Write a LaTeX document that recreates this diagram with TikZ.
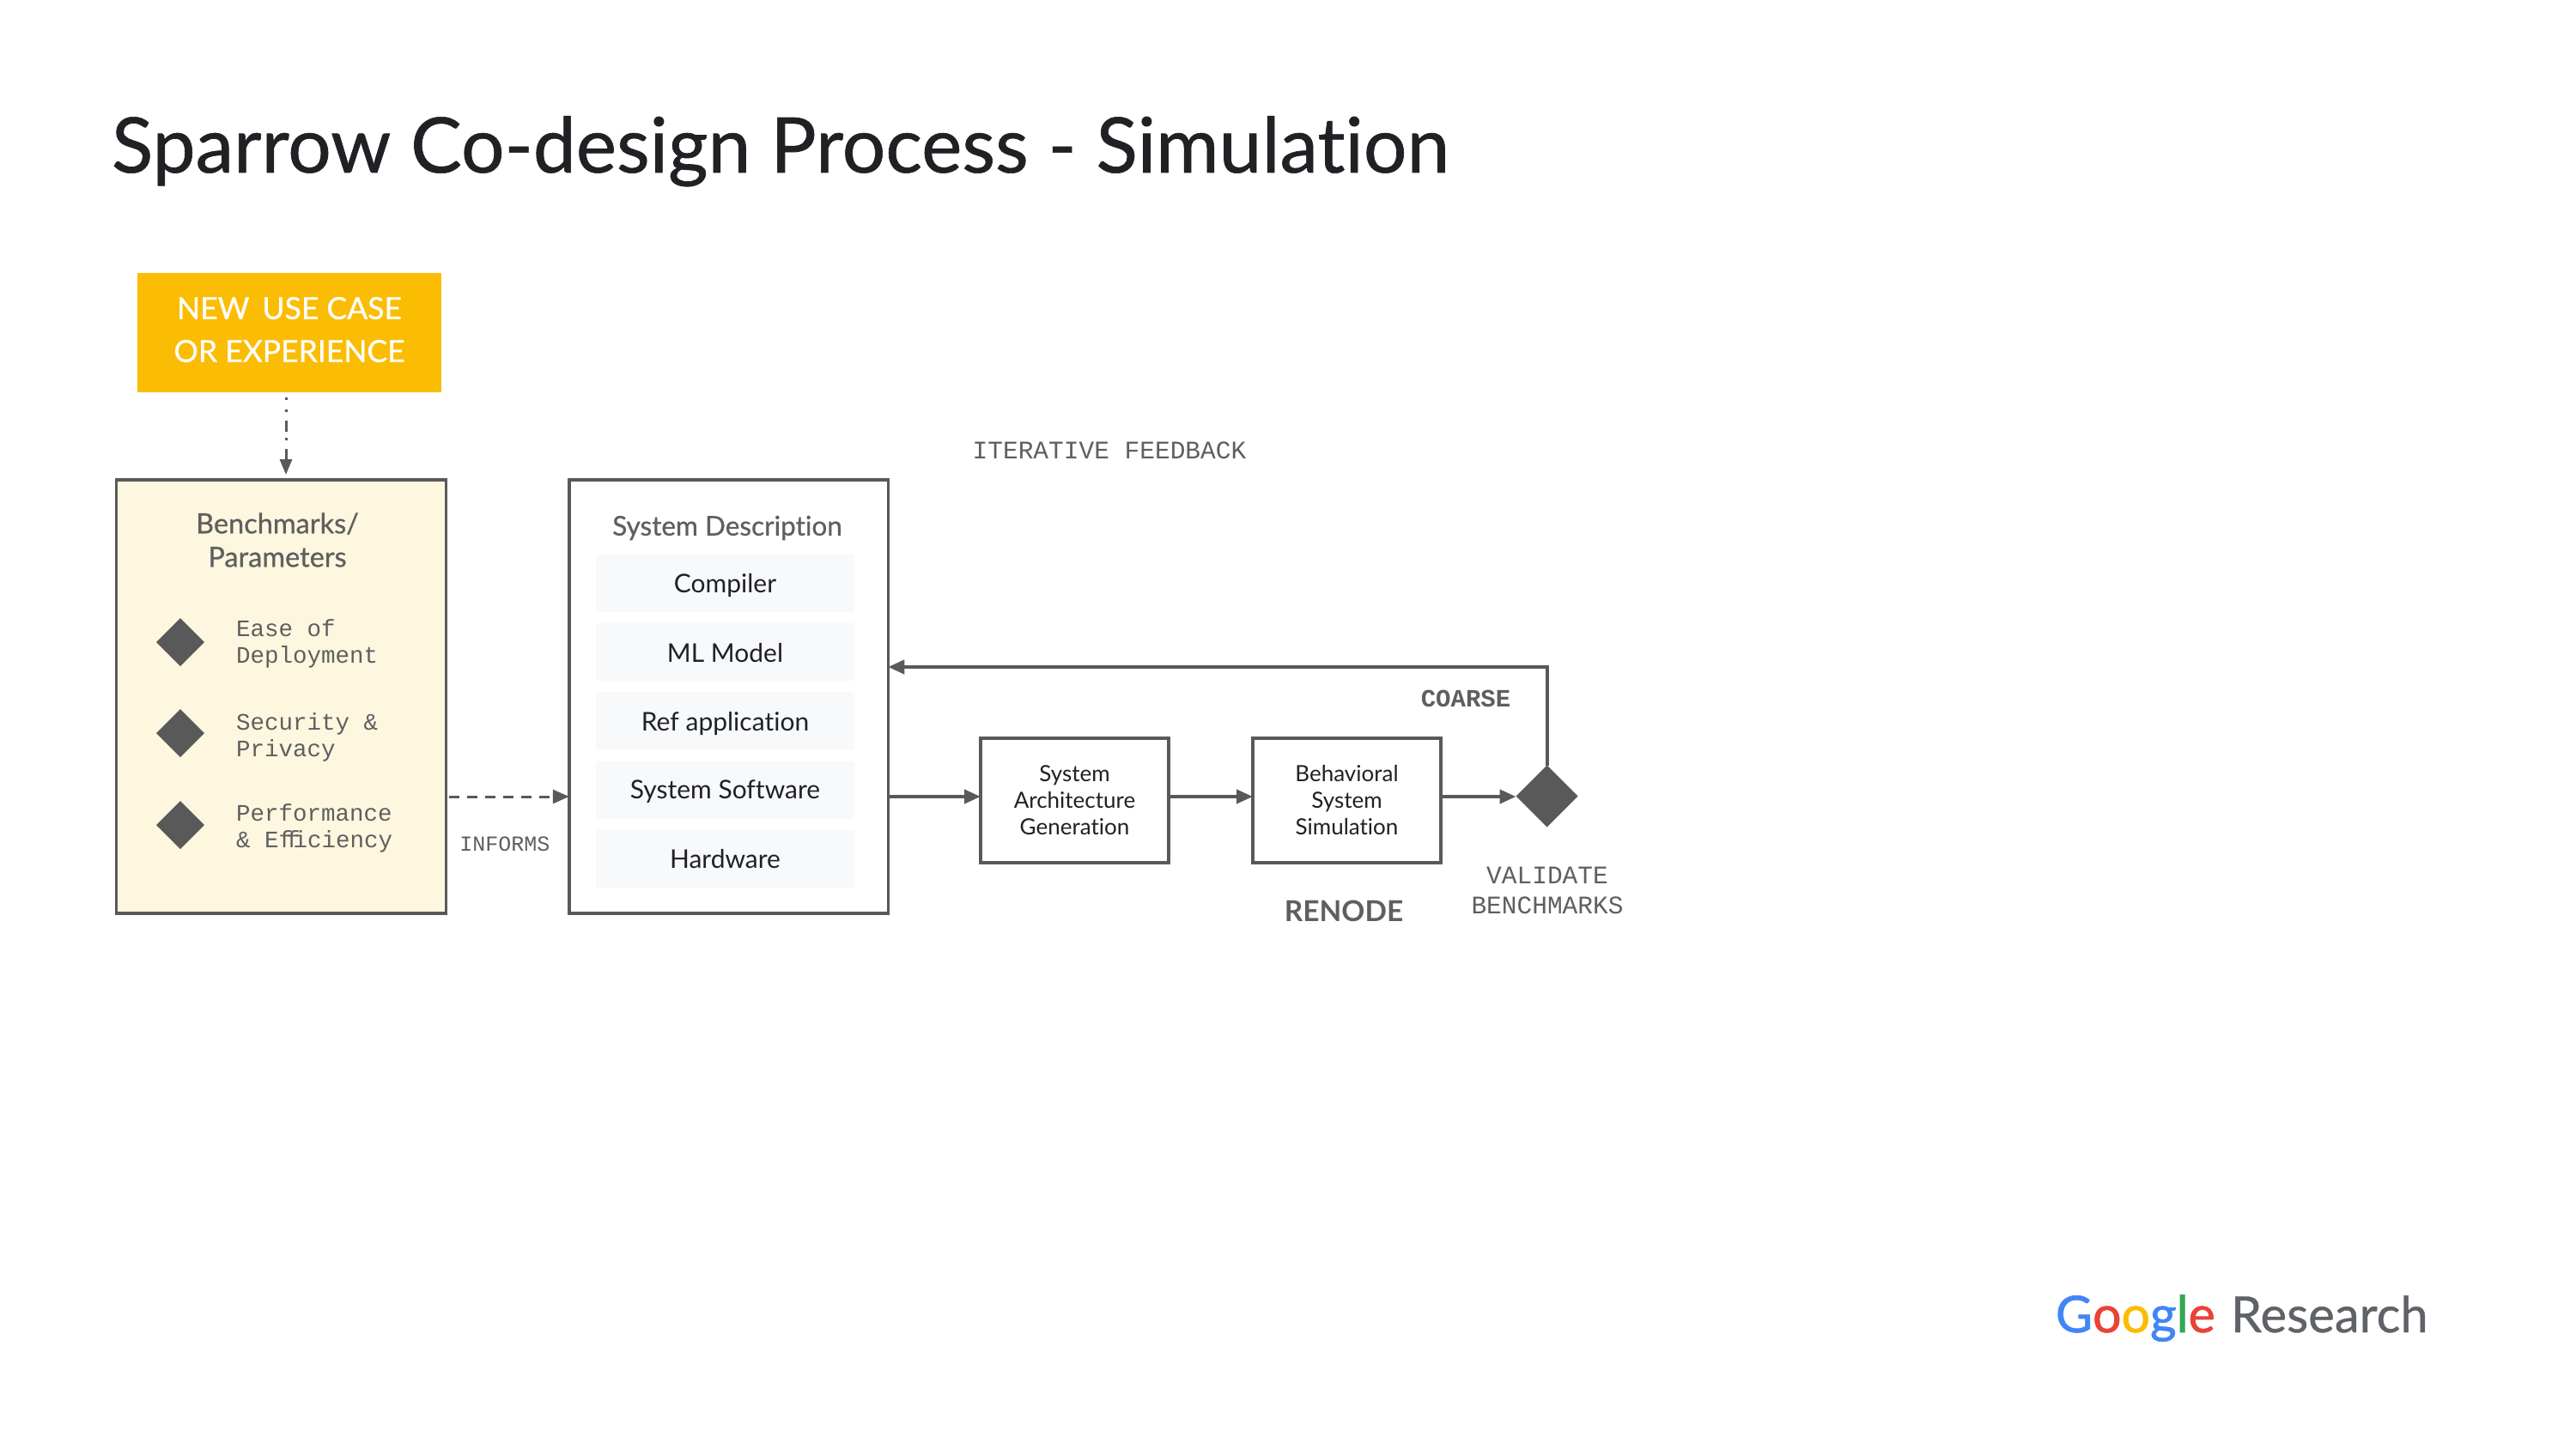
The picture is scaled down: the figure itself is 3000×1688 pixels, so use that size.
\documentclass[tikz,border=0pt]{standalone}
\usepackage{fontspec}
\usetikzlibrary{arrows.meta,shapes.geometric,calc}
\setmainfont[Ligatures=NoCommon]{Lato}
\newfontfamily\medfont[FakeBold=0.7,Ligatures=NoCommon]{Lato}
\newfontfamily\heavyfont[FakeBold=1.2,Ligatures=NoCommon]{Lato}
\newfontfamily\monofont{Liberation Mono}
\definecolor{linegrey}{HTML}{595959}
\definecolor{labelgrey}{HTML}{5F5F5F}
\definecolor{inkblack}{HTML}{202124}
\definecolor{gyellow}{HTML}{FBBC04}
\definecolor{creamfill}{HTML}{FEF7E0}
\definecolor{rowfill}{HTML}{F8F9FA}
\definecolor{gblue}{HTML}{4285F4}
\definecolor{gred}{HTML}{EA4335}
\definecolor{ggold}{HTML}{FBBC05}
\definecolor{ggreen}{HTML}{34A853}
\definecolor{greslabel}{HTML}{5F6368}
\newcommand{\fsz}[1]{\fontsize{#1}{#1}\selectfont}
\tikzset{
  x=1pt,y=-1pt,
  every node/.style={inner sep=0pt,outer sep=0pt},
  framebox/.style={draw=linegrey,line width=3.5pt,rectangle},
  rowbox/.style={fill=rowfill,rectangle,rounded corners=2pt,minimum width=301pt,minimum height=67pt},
  rowtext/.style={text=inkblack,font=\fsz{30}},
  gem/.style={fill=linegrey,diamond,aspect=1,minimum width=#1,minimum height=#1},
  link/.style={draw=linegrey,line width=4pt,-{Triangle[length=19pt,width=16pt,fill=linegrey]}},
  monolabel/.style={text=labelgrey,align=left,anchor=west,font=\monofont\fontsize{27.5}{31}\selectfont},
  monocenter/.style={text=labelgrey,align=center,font=\monofont\fontsize{29.5}{35}\selectfont},
  boxtext/.style={text=inkblack,align=center,font=\fontsize{26}{31}\selectfont},
}
\begin{document}
\begin{tikzpicture}
\useasboundingbox[fill=white] (0,0) rectangle (3000,1688);
\node[anchor=base west,text=inkblack,font=\medfont\fsz{89.3}] (title) at (130,201) {Sparrow Co-design Process - Simulation};

\node[fill=gyellow,rectangle,minimum width=354pt,minimum height=139pt] (usecase) at (337,387) {};
\node[text=white,align=center,font=\medfont\fontsize{35.5}{50}\selectfont] (usetext) at (337,384) {NEW\, USE CASE\\OR EXPERIENCE};

\node[framebox,fill=creamfill,minimum width=384pt,minimum height=505pt] (bench) at (327.5,811.5) {};
\node[framebox,minimum width=371.5pt,minimum height=505pt] (sys) at (848.5,811.5) {};

\node[text=labelgrey,align=center,font=\medfont\fontsize{32.5}{39}\selectfont] (benchtitle) at (323,629) {Benchmarks/\\Parameters};
\node[gem=56pt] (g1) at (210,748) {};
\node[gem=56pt] (g2) at (210,854) {};
\node[gem=56pt] (g3) at (210,961) {};
\node[monolabel] (t1) at (275,750) {Ease of\\Deployment};
\node[monolabel] (t2) at (275,859) {Security \&\\Privacy};
\node[monolabel] (t3) at (275,964.5) {Performance\\\& Ef\kern-8pt f\kern-8pt iciency};

\node[text=labelgrey,font=\medfont\fsz{31.5}] (systitle) at (847,615) {System Description};
\node[rowbox] (r1) at (844.5,679.5) {};
\node[rowbox] (r2) at (844.5,759.5) {};
\node[rowbox] (r3) at (844.5,840) {};
\node[rowbox] (r4) at (844.5,920.5) {};
\node[rowbox] (r5) at (844.5,1000.5) {};
\node[rowtext] (l1) at ($(r1)+(0,3)$) {Compiler};
\node[rowtext] (l2) at ($(r2)+(0,1)$) {ML Model};
\node[rowtext] (l3) at ($(r3)+(0,3)$) {Ref application};
\node[rowtext] (l4) at ($(r4)+(0,2)$) {System Software};
\node[rowtext] (l5) at ($(r5)+(0,0)$) {Hardware};

\node[framebox,minimum width=219pt,minimum height=145pt,boxtext] (arch) at (1251.5,932.5) {System\\Architecture\\Generation};
\node[framebox,minimum width=219pt,minimum height=145pt,boxtext] (behav) at (1568.5,932.5) {Behavioral\\System\\Simulation};
\node[gem=72pt] (check) at (1801.5,927.5) {};

\coordinate (flow) at (0,928);
\coordinate (fb) at (0,777);
\coordinate (drop) at (333,0);

\draw[link,line width=3pt,-{Triangle[length=18pt,width=14pt,fill=linegrey]},shorten <=6pt,shorten >=6pt,
  dash pattern=on 3pt off 11pt on 3pt off 10pt on 13pt off 7pt on 3pt off 10pt on 40pt off 0pt]
  (drop |- usecase.south) -- (drop |- bench.north);
\draw[link,line width=3pt,dash pattern=on 12pt off 9pt,shorten <=3pt] (bench.east |- flow) -- (sys.west |- flow);
\draw[link] (sys.east |- flow) -- (arch.west |- flow);
\draw[link] (arch.east |- flow) -- (behav.west |- flow);
\draw[link] (behav.east |- flow) -- (check.west |- flow);
\draw[link] (check.north) |- (sys.east |- fb);

\node[monocenter,font=\monofont\fsz{25}] (informs) at (588,983) {INFORMS};
\node[monocenter] (iter) at (1292,525) {ITERATIVE FEEDBACK};
\node[monocenter,font=\monofont\bfseries\fsz{29}] (coarse) at (1707,814) {COARSE};
\node[text=labelgrey,font=\bfseries\fsz{33.5}] (renode) at (1565,1061) {RENODE};
\node[monocenter] (validate) at (1802,1037) {VALIDATE\\BENCHMARKS};

\node[anchor=base west,font=\heavyfont\fsz{59}] (google) at (2394,1552) {%
  \textcolor{gblue}{G}\textcolor{gred}{o}\textcolor{ggold}{o}\textcolor{gblue}{g}\textcolor{ggreen}{l}\textcolor{gred}{e}};
\node[anchor=base west,text=greslabel,font=\medfont\fsz{58}] (research) at (2598,1552) {Research};
\end{tikzpicture}
\end{document}
